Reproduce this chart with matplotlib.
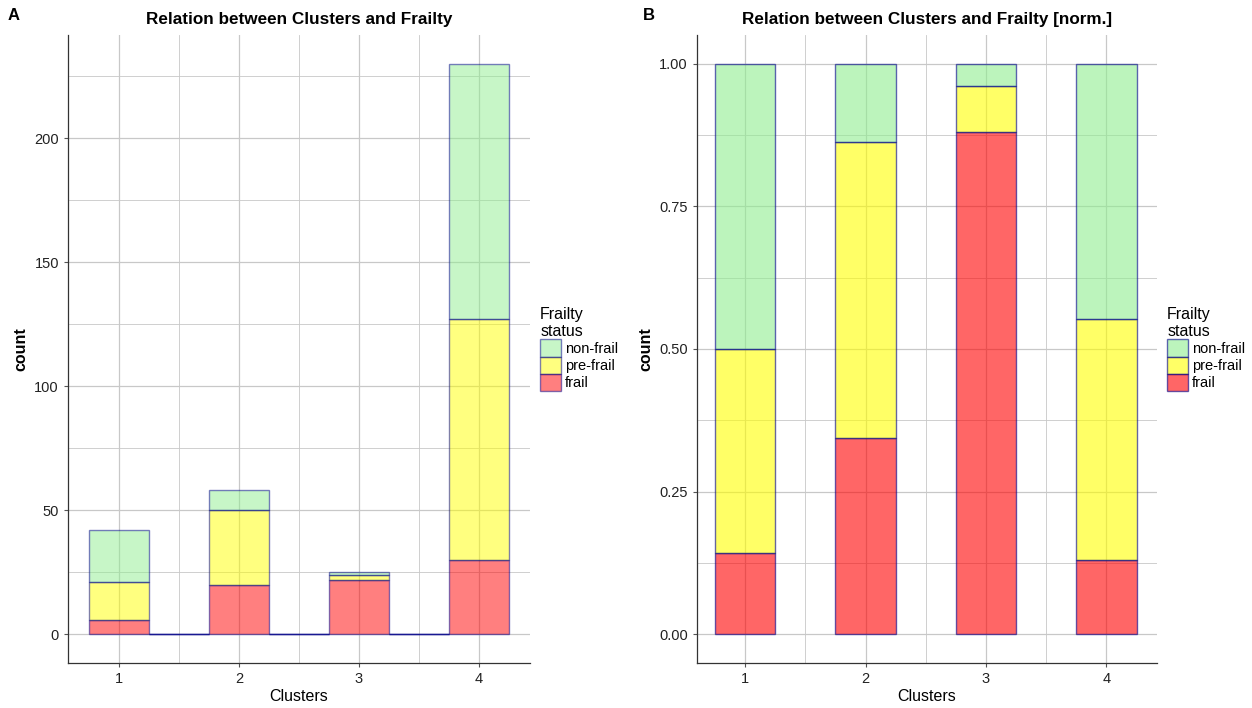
import numpy as np
import matplotlib.pyplot as plt
from matplotlib.patches import Patch
from matplotlib.ticker import MultipleLocator

plt.rcParams['font.family'] = ['Liberation Sans', 'DejaVu Sans']

# histogram bins (width 0.5), empty bins in between the clusters
bin_centers = [1, 1.5, 2, 2.5, 3, 3.5, 4]
frail = [6, 0, 20, 0, 22, 0, 30]
pre_frail = [15, 0, 30, 0, 2, 0, 97]
non_frail = [21, 0, 8, 0, 1, 0, 103]

clusters = [1, 2, 3, 4]
status = ['non-frail', 'pre-frail', 'frail']
base_colors = ['#90EE90', '#FFFF00', '#FF0000']

frail_a = np.array(frail, dtype=float)
pre_a = np.array(pre_frail, dtype=float)
non_a = np.array(non_frail, dtype=float)
total = frail_a + pre_a + non_a
mask = total > 0
fr_n = frail_a[mask] / total[mask]
pre_n = pre_a[mask] / total[mask]
non_n = non_a[mask] / total[mask]

edge = (0.0, 0.0, 0.55, 0.75)
grid_c = '#c8c8c8'


def style_axes(ax, title, ylabel):
    ax.set_facecolor('white')
    for s in ['top', 'right']:
        ax.spines[s].set_visible(False)
    for s in ['left', 'bottom']:
        ax.spines[s].set_color('#333333')
        ax.spines[s].set_linewidth(0.9)
    ax.grid(True, which='major', color=grid_c, lw=0.9)
    ax.grid(True, which='minor', color=grid_c, lw=0.6)
    ax.set_axisbelow(True)
    ax.tick_params(which='major', length=3, color='#555555', labelsize=10.5, labelcolor='#222222')
    ax.tick_params(which='minor', length=0)
    ax.set_title(title, fontsize=12.3, fontweight='bold', pad=8)
    ax.set_xlabel('Clusters', fontsize=11.5, labelpad=2)
    ax.set_ylabel(ylabel, fontsize=11.5, fontweight='bold')
    ax.set_xticks(clusters)
    ax.set_xticks([1.5, 2.5, 3.5], minor=True)


def add_legend(ax, alpha):
    handles = [Patch(facecolor=c, alpha=alpha, edgecolor=(0, 0, 0.55), lw=1.0)
               for c in base_colors]
    leg = ax.legend(handles, status, title='Frailty\nstatus', loc='center left',
                    bbox_to_anchor=(1.0, 0.5), frameon=False, fontsize=10.5,
                    title_fontsize=11.5, handlelength=1.45, handleheight=1.45,
                    handletextpad=0.25, labelspacing=0.0, borderaxespad=0.3)
    leg._legend_box.align = 'left'


fig = plt.figure(figsize=(12.52, 7.08), dpi=100)
ax1 = fig.add_axes([68 / 1252, 45 / 708, 462 / 1252, 628 / 708])
ax2 = fig.add_axes([697 / 1252, 45 / 708, 460 / 1252, 628 / 708])

# panel A: counts
a1 = 0.5
ax1.bar(bin_centers, frail, width=0.5, color=base_colors[2], alpha=a1, edgecolor=edge, lw=1.0)
ax1.bar(bin_centers, pre_frail, width=0.5, bottom=frail, color=base_colors[1], alpha=a1,
        edgecolor=edge, lw=1.0)
ax1.bar(bin_centers, non_frail, width=0.5, bottom=frail_a + pre_a, color=base_colors[0],
        alpha=a1, edgecolor=edge, lw=1.0)
ax1.set_xlim(0.575, 4.425)
ax1.set_ylim(-11.5, 241.5)
ax1.yaxis.set_major_locator(MultipleLocator(50))
ax1.yaxis.set_minor_locator(MultipleLocator(25))
style_axes(ax1, 'Relation between Clusters and Frailty', 'count')
add_legend(ax1, a1)

# panel B: normalised
a2 = 0.6
ax2.bar(clusters, fr_n, width=0.5, color=base_colors[2], alpha=a2, edgecolor=edge, lw=1.0)
ax2.bar(clusters, pre_n, width=0.5, bottom=fr_n, color=base_colors[1], alpha=a2,
        edgecolor=edge, lw=1.0)
ax2.bar(clusters, non_n, width=0.5, bottom=fr_n + pre_n, color=base_colors[0], alpha=a2,
        edgecolor=edge, lw=1.0)
ax2.set_xlim(0.6, 4.42)
ax2.set_ylim(-0.05, 1.05)
ax2.yaxis.set_major_locator(MultipleLocator(0.25))
ax2.yaxis.set_minor_locator(MultipleLocator(0.125))
ax2.yaxis.set_major_formatter(plt.FuncFormatter(lambda v, p: f'{v:.2f}'))
style_axes(ax2, 'Relation between Clusters and Frailty [norm.]', 'count')
add_legend(ax2, a2)

fig.text(8 / 1252, 1 - 20 / 708, 'A', fontsize=12, fontweight='bold')
fig.text(643 / 1252, 1 - 20 / 708, 'B', fontsize=12, fontweight='bold')

fig.savefig('out.png', dpi=100, facecolor='white')
